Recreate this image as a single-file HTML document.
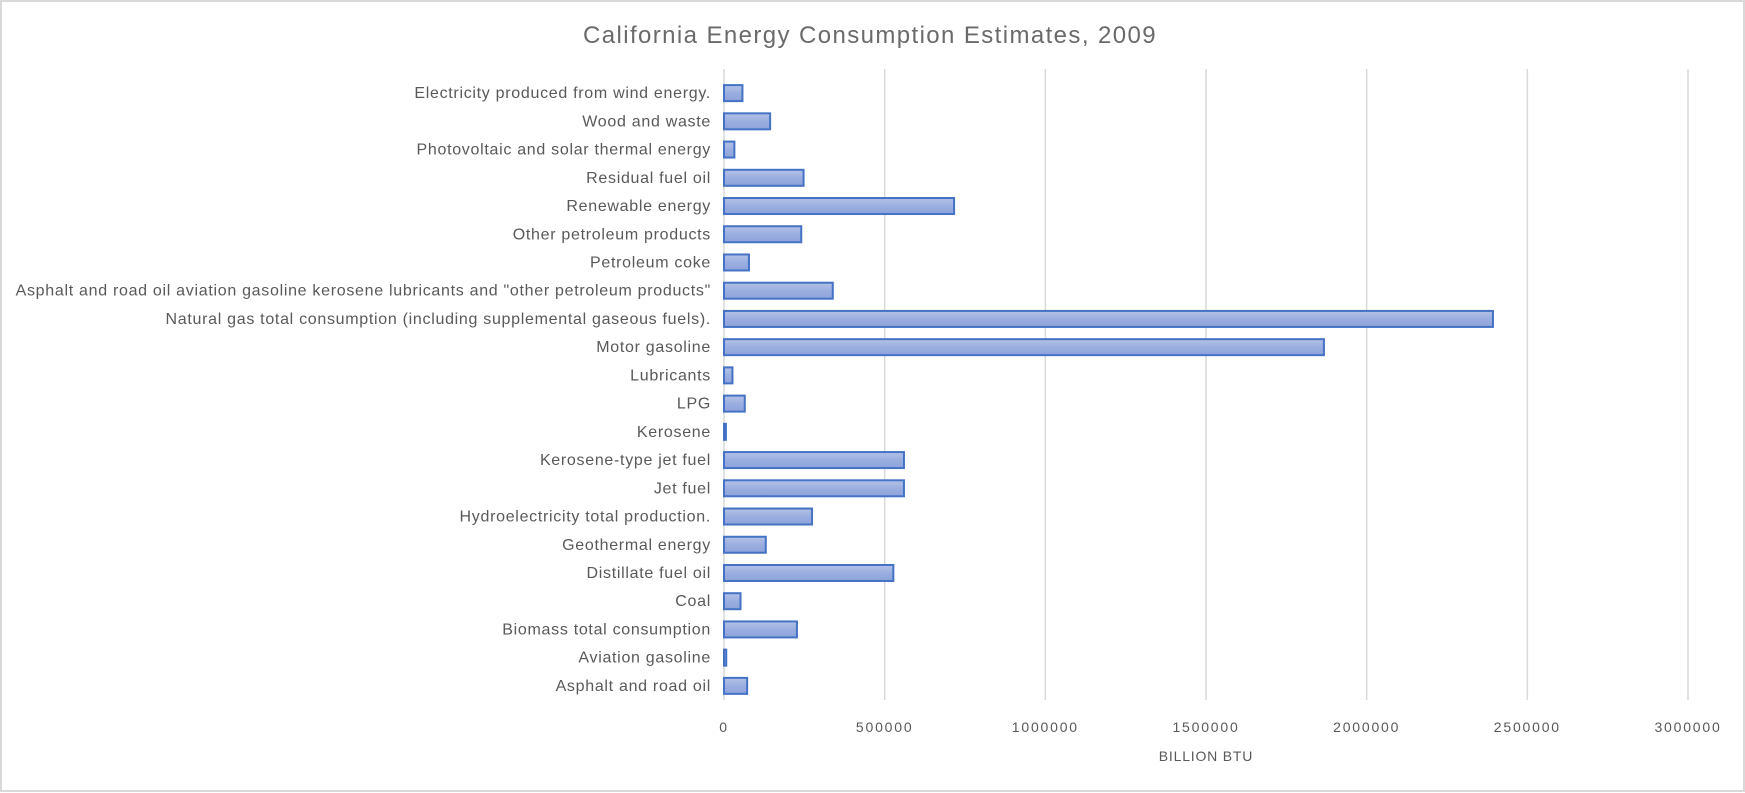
<!DOCTYPE html>
<html><head><meta charset="utf-8"><style>
body{margin:0;background:#fff;}
svg{display:block;font-family:"Liberation Sans",sans-serif;}
</style></head><body>
<svg id="chart" width="1745" height="793">
<defs><linearGradient id="g" x1="0" y1="0" x2="0" y2="1"><stop offset="0" stop-color="#b4c2e6"/><stop offset="0.5" stop-color="#9aaee0"/><stop offset="1" stop-color="#8ea3da"/></linearGradient></defs>
<rect x="1" y="1" width="1743" height="790" fill="#fff" stroke="#d9d9d9" stroke-width="2"/>
<text x="870" y="43" text-anchor="middle" font-size="24" letter-spacing="1.4" fill="#6a6a6a">California Energy Consumption Estimates, 2009</text>
<text x="1206" y="761" text-anchor="middle" font-size="14" letter-spacing="0.8" fill="#595959">BILLION BTU</text>
<g id="grid"></g><g id="bars"></g><g id="ylabels"></g><g id="xlabels"></g>
</svg>
<script>
const categories=["Electricity produced from wind energy.","Wood and waste","Photovoltaic and solar thermal energy","Residual fuel oil","Renewable energy","Other petroleum products","Petroleum coke","Asphalt and road oil aviation gasoline kerosene lubricants and \"other petroleum products\"","Natural gas total consumption (including supplemental gaseous fuels).","Motor gasoline","Lubricants","LPG","Kerosene","Kerosene-type jet fuel","Jet fuel","Hydroelectricity total production.","Geothermal energy","Distillate fuel oil","Coal","Biomass total consumption","Aviation gasoline","Asphalt and road oil"];
const values=[57400,143500,32300,247600,716000,240400,77700,338500,2393000,1867000,26300,64600,6000,560000,560000,274000,130000,527000,51400,227000,7000,72000];
const ticks=[0,500000,1000000,1500000,2000000,2500000,3000000];
const tickLabels=["0","500000","1000000","1500000","2000000","2500000","3000000"];
const NS="http://www.w3.org/2000/svg";
const X0=724,X1=1688,XMAX=3000000,TOP=79,BOT=700;
const x=v=>X0+(v/XMAX)*(X1-X0);
const band=(BOT-TOP)/categories.length;
const yc=i=>TOP+band*(i+0.5);
function mk(tag,attrs,parent){const e=document.createElementNS(NS,tag);for(const k in attrs)e.setAttribute(k,attrs[k]);document.getElementById(parent).appendChild(e);return e;}
ticks.forEach((t,i)=>{
  if(t>0){const l=mk('line',{x1:x(t),x2:x(t),y1:TOP-10,y2:BOT,stroke:'#d9d9d9','stroke-width':1.5},'grid');
  
  }
  const tx=mk('text',{x:x(t),y:732,'text-anchor':'middle','font-size':14,'letter-spacing':1.8,fill:'#595959'},'xlabels');
  tx.textContent=tickLabels[i];
  
  
});
const ax=mk('line',{x1:X0,x2:X0,y1:TOP-10,y2:BOT,stroke:'#d9d9d9','stroke-width':1.5},'grid');


categories.forEach((c,i)=>{
  const h=16;
  const r=mk('rect',{x:X0,y:yc(i)-h/2,width:Math.max(x(values[i])-X0,1),height:h,fill:'url(#g)',stroke:'#4472c4','stroke-width':2},'bars');
  
  
  const t=mk('text',{x:711,y:yc(i)+5,'text-anchor':'end','font-size':16,'letter-spacing':0.7,fill:'#595959'},'ylabels');
  t.textContent=c;
  
  
});
</script>
</body></html>
